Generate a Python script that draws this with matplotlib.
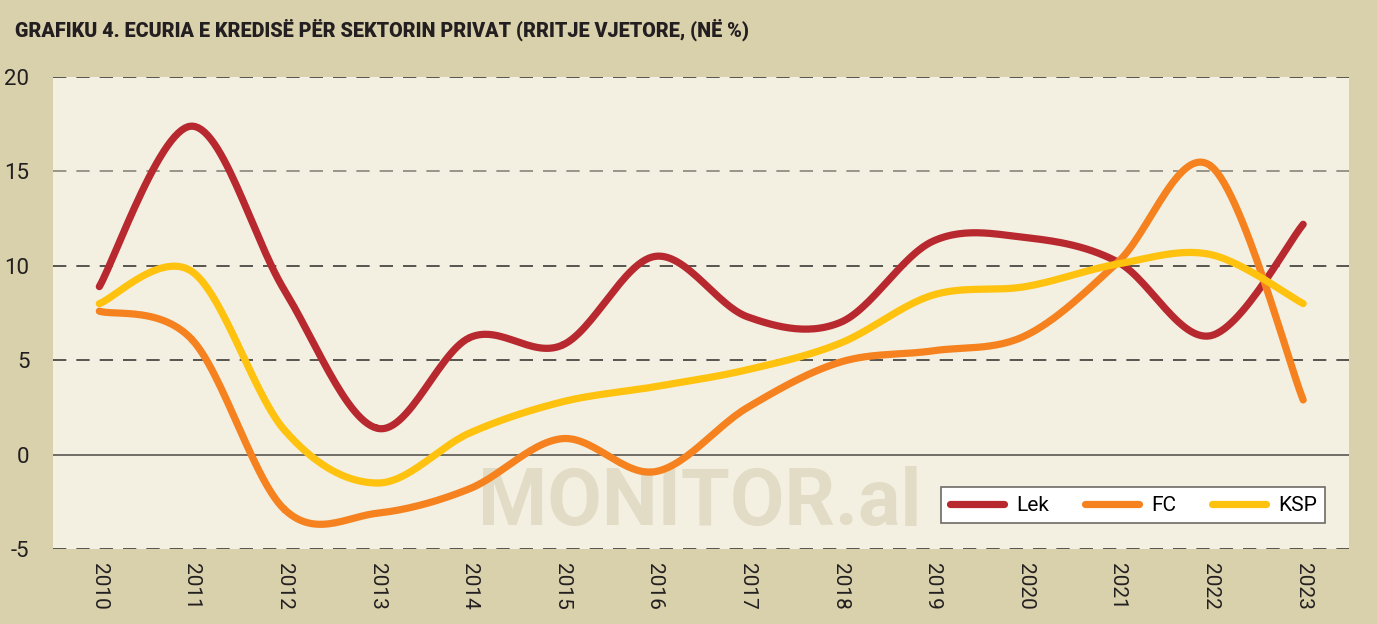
import numpy as np
import matplotlib
matplotlib.use("Agg")
from matplotlib import pyplot as plt

years = ['2010', '2011', '2012', '2013', '2014', '2015', '2016',
         '2017', '2018', '2019', '2020', '2021', '2022', '2023']
lek = [8.9, 17.4, 8.7, 1.4, 6.2, 5.8, 10.5, 7.3, 7.0, 11.3, 11.5, 10.2, 6.3, 12.2]
fc = [7.6, 6.1, -2.9, -3.1, -1.8, 0.85, -0.9, 2.5, 4.9, 5.5, 6.3, 10.2, 15.3, 2.9]
ksp = [8.0, 9.7, 1.3, -1.5, 1.15, 2.8, 3.6, 4.5, 5.9, 8.45, 8.9, 10.1, 10.6, 8.0]

bg = '#d9d0ac'
plot_bg = '#f3f0e2'
plt.rcParams['font.family'] = ['Roboto', 'DejaVu Sans']


def smooth(x, y, n=30):
    # catmull-rom like excel's smoothed line
    x = np.asarray(x, float)
    y = np.asarray(y, float)
    px = np.concatenate([[x[0]], x, [x[-1]]])
    py = np.concatenate([[y[0]], y, [y[-1]]])
    xs, ys = [], []
    t = np.linspace(0, 1, n)
    for i in range(1, len(px) - 2):
        for p, out in ((px, xs), (py, ys)):
            p0, p1, p2, p3 = p[i - 1], p[i], p[i + 1], p[i + 2]
            out.extend(0.5 * (2 * p1 + (-p0 + p2) * t
                              + (2 * p0 - 5 * p1 + 4 * p2 - p3) * t ** 2
                              + (-p0 + 3 * p1 - 3 * p2 + p3) * t ** 3))
    return xs, ys


fig = plt.figure(figsize=(13.77, 6.24), dpi=100, facecolor=bg)
ax = fig.add_axes([0.0385, 0.12, 0.9415, 0.7566])
ax.set_facecolor(plot_bg)

idx = np.arange(len(years))
for vals, col, lab in ((lek, '#b8282f', 'Lek'), (fc, '#f5821f', 'FC'), (ksp, '#ffc20e', 'KSP')):
    sx, sy = smooth(idx, vals)
    ax.plot(sx, sy, color=col, lw=5.2, solid_capstyle='round', label=lab, zorder=3)

ax.set_xlim(-0.5, len(years) - 0.5)
ax.set_ylim(-5, 20)
ax.set_yticks([-5, 0, 5, 10, 15, 20])
ax.set_xticks(idx)
ax.set_xticklabels(years, rotation=-90, fontsize=15, color='#231f20')
ax.set_yticklabels(['-5', '0', '5', '10', '15', '20'], fontsize=16, color='#231f20')
ax.tick_params(length=0, pad=17)
ax.tick_params(axis='x', pad=10)
for s in ax.spines.values():
    s.set_visible(False)

for v in [-5, 5, 10, 15, 20]:
    ax.axhline(v, color='#8a857a' if v == 15 else '#3c3a36', lw=1.2,
               dashes=(8, 6), zorder=1)
ax.axhline(0, color='#5a5753', lw=1.2, zorder=1)

ax.text(0.499, 0.097, 'MONITOR.al', transform=ax.transAxes, ha='center', va='center',
        fontsize=57, fontweight='bold', color='#e2dcc6', zorder=2,
        family=['Roboto', 'DejaVu Sans'])

leg = ax.legend(loc='lower right', bbox_to_anchor=(0.9815, 0.055), ncol=3,
                frameon=True, fancybox=False, fontsize=15, handlelength=2.6,
                columnspacing=1.7, handletextpad=0.6, borderpad=0.4,
                borderaxespad=0)
leg.get_frame().set_edgecolor('#6d6a66')
leg.get_frame().set_linewidth(1.2)
leg.get_frame().set_facecolor('white')
leg.get_frame().set_alpha(1)
leg.set_zorder(5)

fig.text(0.011, 0.952, 'GRAFIKU 4. ECURIA E KREDISË PËR SEKTORIN PRIVAT (RRITJE VJETORE, (NË %)',
         fontsize=14.2, fontweight='black', color='#231f20', va='center')

fig.savefig('out.png', dpi=100, facecolor=bg)
